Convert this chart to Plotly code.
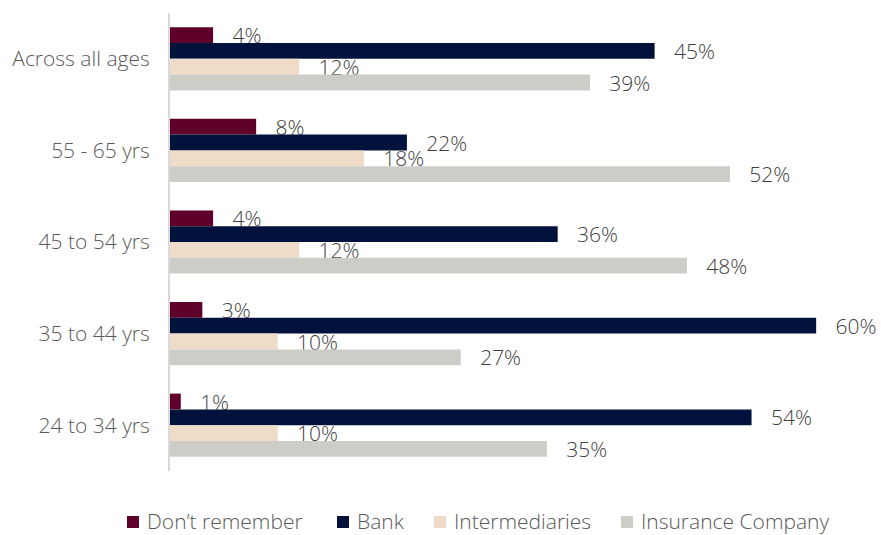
import plotly.graph_objects as go

# Survey: where respondents bought their policy, by age band (% of respondents)
age_groups = ["Across all ages", "55 - 65 yrs", "45 to 54 yrs", "35 to 44 yrs", "24 to 34 yrs"]
dont_remember = [4, 8, 4, 3, 1]
bank = [45, 22, 36, 60, 54]
intermediaries = [12, 18, 12, 10, 10]
insurance_company = [39, 52, 48, 27, 35]

series_names = ["Don\u2019t remember", "Bank", "Intermediaries", "Insurance Company"]
series_values = [dont_remember, bank, intermediaries, insurance_company]
series_colors = ["#5e0029", "#00123b", "#eedbc8", "#cdcdc8"]

FONT = "'Open Sans', Lato, sans-serif"
TEXT_GREY = "#595959"
NBSP = "\u00a0"

W, H = 881, 535
M_L, M_R, M_T, M_B = 170, 11, 13, 64
PLOT_W = W - M_L - M_R
PLOT_H = H - M_T - M_B


def px_to_paper(px, py):
    """Convert page pixels into paper coordinates of the plot area."""
    return (px - M_L) / PLOT_W, (H - M_B - py) / PLOT_H


fig = go.Figure()
for name, values, color in zip(series_names, series_values, series_colors):
    fig.add_trace(go.Bar(
        name=name,
        y=age_groups,
        x=values,
        orientation="h",
        marker=dict(color=color, line=dict(width=0)),
        text=[f"{NBSP * 3}{v}%" for v in values],
        textposition="outside",
        constraintext="none",
        cliponaxis=False,
        textfont=dict(family=FONT, size=21, color="#404040", weight=300),
        hoverinfo="skip",
        showlegend=False,
    ))

# Legend row along the bottom: a small colour square followed by the series name
legend_text_left = [146, 356, 453, 640]
legend_center_y = 521
square = 12
for name, color, tx in zip(series_names, series_colors, legend_text_left):
    sx0, sy0 = px_to_paper(tx - 19, legend_center_y + 1 + square / 2)
    sx1, sy1 = px_to_paper(tx - 19 + square, legend_center_y + 1 - square / 2)
    fig.add_shape(type="rect", xref="paper", yref="paper",
                  x0=sx0, y0=sy0, x1=sx1, y1=sy1,
                  fillcolor=color, line=dict(width=0))
    ax, ay = px_to_paper(tx, legend_center_y)
    fig.add_annotation(xref="paper", yref="paper", x=ax, y=ay,
                       xanchor="left", yanchor="middle", showarrow=False,
                       text=name, borderpad=0,
                       font=dict(family=FONT, size=21, color=TEXT_GREY, weight=300))

fig.update_layout(
    width=W,
    height=H,
    barmode="group",
    bargap=0.31,
    bargroupgap=0,
    plot_bgcolor="white",
    paper_bgcolor="white",
    margin=dict(l=M_L, r=M_R, t=M_T, b=M_B),
    font=dict(family=FONT, color=TEXT_GREY, size=21, weight=300),
    xaxis=dict(range=[0, 65], visible=False, fixedrange=True),
    yaxis=dict(
        autorange="reversed",
        automargin=False,
        showline=True,
        linecolor="#d9d9d9",
        linewidth=2,
        showgrid=False,
        ticks="",
        ticklabelstandoff=14,
        tickfont=dict(family=FONT, size=21, color=TEXT_GREY, weight=300),
    ),
    showlegend=False,
)

fig.write_html("out.html")
